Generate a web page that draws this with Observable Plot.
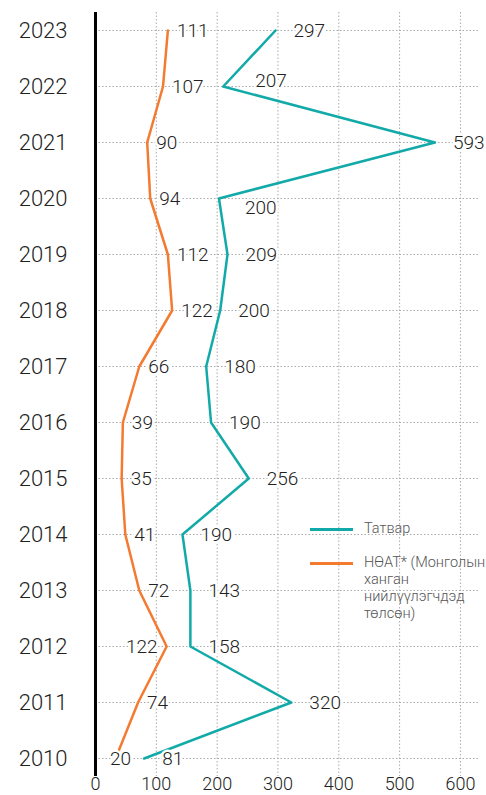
<!DOCTYPE html>
<html><head><meta charset="utf-8">
<script src="https://cdn.jsdelivr.net/npm/d3@7"></script>
<script src="https://cdn.jsdelivr.net/npm/@observablehq/plot@0.6"></script>
<style>
body{margin:0;background:#fff;font-family:Roboto,sans-serif;}
#wrap{position:relative;width:486px;height:795px;}
.legend{position:absolute;left:310px;top:520px;font-size:14.5px;color:#555;line-height:17px;white-space:nowrap;font-weight:300;}
.item{display:flex;align-items:flex-start;}
.item + .item{margin-top:16.5px;}
.sw{width:43px;height:3px;margin-top:8px;margin-right:11px;flex:none;}
svg text{font-weight:300;}
</style></head><body><div id="wrap"></div>
<script>
const years = [2010, 2011, 2012, 2013, 2014, 2015, 2016, 2017, 2018, 2019, 2020, 2021, 2022, 2023];
// line positions as drawn in the picture
const taxLine = [80, 322, 156, 156, 143, 252, 190, 182, 205, 217, 203, 558, 210, 296];
const vatLine = [33, 70, 117, 72, 49, 43, 45, 72, 126, 119, 90, 85, 111, 119];
// printed value labels
const taxLabels = ["81", "320", "158", "143", "190", "256", "190", "180", "200", "209", "200", "593", "207", "297"];
const vatLabels = ["20", "74", "122", "72", "41", "35", "39", "66", "122", "112", "94", "90", "107", "111"];
const xTicks = [0, 100, 200, 300, 400, 500, 600];
const seriesNames = ["Татвар", "НӨАТ* (Монголын<br>ханган<br>нийлүүлэгчдэд<br>төлсөн)"];
const teal = "#12aaa8", orange = "#f47a30";

const rows = years.map((year, i) => ({year, tax: taxLine[i], vat: vatLine[i], taxLabel: taxLabels[i], vatLabel: vatLabels[i],
  nextTax: taxLine[i + 1], prevTax: taxLine[i - 1]}));
const grid = {stroke: "#aaa", strokeDasharray: "1.5,2", strokeWidth: 1};
const labelStyle = {fill: "#222", stroke: "white", strokeWidth: 5, fontSize: 19};
const roomy = d => d.tax - d.vat >= 60;
// tax labels next to a steep segment heading right are nudged away from it
const steepAbove = d => d.nextTax - d.tax > 300;
const steepBelow = d => d.prevTax - d.tax > 300;
const plain = d => !steepAbove(d) && !steepBelow(d);

const chart = Plot.plot({
  width: 486, height: 795,
  marginTop: 12, marginBottom: 19, marginLeft: 95, marginRight: 6,
  style: {fontFamily: "Roboto, sans-serif", color: "#222", background: "white", overflow: "visible"},
  x: {domain: [0, 633]},
  y: {type: "point", domain: [...years].reverse(), padding: 0.3},
  marks: [
    Plot.ruleX(xTicks.slice(1), grid),
    Plot.ruleY(years, {y: d => d, ...grid}),
    Plot.axisX({ticks: xTicks, tickSize: 0, tickPadding: 1, fontSize: 18, label: null, fill: "#222"}),
    Plot.axisY({tickSize: 0, tickPadding: 28, fontSize: 22, label: null, tickFormat: d => String(d), fill: "#222"}),
    Plot.ruleX([0], {stroke: "black", strokeWidth: 3}),
    Plot.line(rows, {x: "vat", y: "year", stroke: orange, strokeWidth: 2.5}),
    Plot.line(rows, {x: "tax", y: "year", stroke: teal, strokeWidth: 2.5}),
    Plot.text(rows.filter(plain), {x: "tax", y: "year", text: "taxLabel", dx: 18, textAnchor: "start", ...labelStyle}),
    Plot.text(rows.filter(steepAbove), {x: "tax", y: "year", text: "taxLabel", dx: 26, dy: 9, textAnchor: "start", ...labelStyle}),
    Plot.text(rows.filter(steepBelow), {x: "tax", y: "year", text: "taxLabel", dx: 32, dy: -6, textAnchor: "start", ...labelStyle}),
    Plot.text(rows.filter(roomy), {x: "vat", y: "year", text: "vatLabel", dx: 9, textAnchor: "start", ...labelStyle}),
    Plot.text(rows.filter(d => !roomy(d) && d.vat >= 60), {x: "vat", y: "year", text: "vatLabel", dx: -9, textAnchor: "end", ...labelStyle}),
    Plot.text(rows.filter(d => !roomy(d) && d.vat < 60), {x: "vat", y: "year", text: "vatLabel", dx: 5, textAnchor: "middle", ...labelStyle})
  ]
});
const wrap = document.getElementById("wrap");
wrap.appendChild(chart);
const legend = document.createElement("div");
legend.className = "legend";
legend.innerHTML = seriesNames.map((n, i) => `<div class="item"><div class="sw" style="background:${[teal, orange][i]}"></div><div>${n}</div></div>`).join("");
wrap.appendChild(legend);
</script></body></html>
